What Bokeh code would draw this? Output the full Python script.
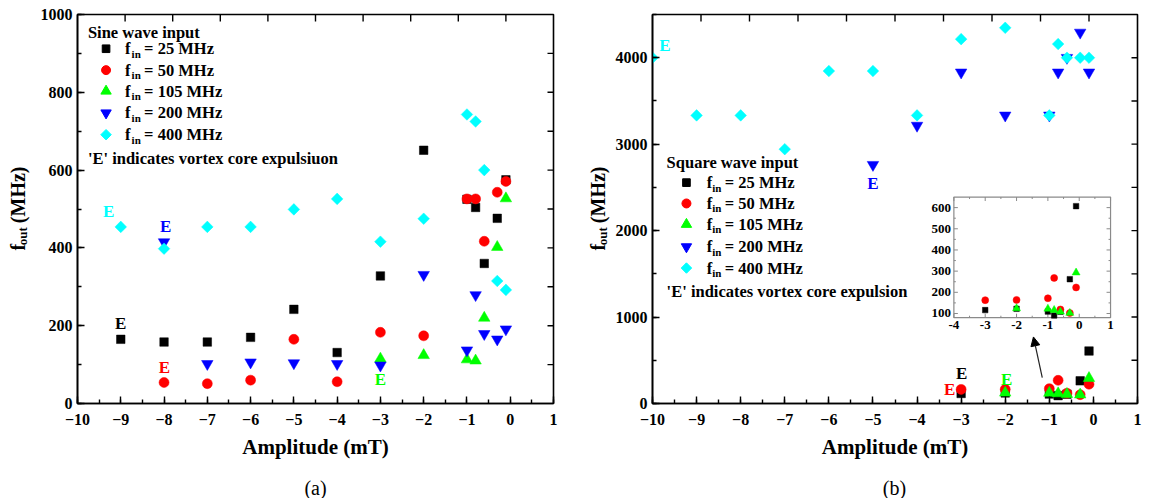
import math
from bokeh.plotting import figure
from bokeh.models import (Range1d, SingleIntervalTicker, Label, Arrow, NormalHead)
from bokeh.layouts import row, column
from bokeh.embed import file_html
from bokeh.resources import INLINE
from bokeh.core.properties import value

# ---------------- data ----------------
series_names = ["25 MHz", "50 MHz", "105 MHz", "200 MHz", "400 MHz"]
series_colors = ["#000000", "#ff0000", "#00ff00", "#0000ff", "#00ffff"]

# (a) sine wave input
sine_25_x = [-9, -8, -7, -6, -5, -4, -3, -2, -1, -0.8, -0.6, -0.3, -0.1]
sine_25_y = [165, 158, 158, 170, 242, 131, 328, 651, 525, 504, 360, 476, 575]
sine_50_x = [-8, -7, -6, -5, -4, -3, -2, -1, -0.8, -0.6, -0.3, -0.1]
sine_50_y = [54, 51, 60, 165, 56, 183, 174, 526, 526, 417, 543, 571]
sine_105_x = [-3, -2, -1, -0.8, -0.6, -0.3, -0.1]
sine_105_y = [115, 124, 113, 110, 220, 402, 527]
sine_200_x = [-8, -7, -6, -5, -4, -3, -2, -1, -0.8, -0.6, -0.3, -0.1]
sine_200_y = [415, 102, 106, 104, 102, 98, 331, 137, 279, 179, 165, 191]
sine_400_x = [-9, -8, -7, -6, -5, -4, -3, -2, -1, -0.8, -0.6, -0.3, -0.1]
sine_400_y = [454, 398, 454, 454, 499, 526, 416, 475, 743, 725, 600, 315, 292]
sine_E_x = [-9.28, -7.96, -9.0, -7.99, -3.0]
sine_E_y = [494, 454, 205, 92, 62]
sine_E_color = ["#00ffff", "#0000ff", "#000000", "#ff0000", "#00ff00"]

# (b) square wave input
sq_25_x = [-3, -2, -1, -0.8, -0.6, -0.3, -0.1]
sq_25_y = [116, 122, 109, 91, 108, 262, 607]
sq_50_x = [-3, -2, -1, -0.8, -0.6, -0.3, -0.1]
sq_50_y = [163, 164, 172, 268, 119, 102, 223]
sq_105_x = [-2, -1, -0.8, -0.6, -0.3, -0.1]
sq_105_y = [124, 122, 116, 108, 102, 293]
sq_200_x = [-5, -4, -3, -2, -1, -0.8, -0.6, -0.3, -0.1]
sq_200_y = [2762, 3215, 3831, 3333, 3333, 3831, 4000, 4292, 3831]
sq_400_x = [-10, -9, -8, -7, -6, -5, -4, -3, -2, -1, -0.8, -0.6, -0.3, -0.1]
sq_400_y = [4000, 3333, 3333, 2942, 3846, 3846, 3333, 4215, 4346, 3333, 4158, 4000, 4000, 4000]
sq_E_x = [-9.72, -5.0, -2.99, -3.26, -1.97]
sq_E_y = [4140, 2540, 345, 160, 275]
sq_E_color = ["#00ffff", "#0000ff", "#000000", "#ff0000", "#00ff00"]

captions = ["(a)", "(b)"]

# axis settings
x_range = (-10, 1)
sine_y_range = (0, 1000)
sq_y_range = (0, 4500)
inset_x_range = (-4, 1)
inset_y_range = (80, 650)
inset_x_ticks = [-4, -3, -2, -1, 0, 1]
inset_y_ticks = [100, 200, 300, 400, 500, 600]

FONT = "Liberation Serif"
H = 468                     # height of the plot row
CAP_H = 30                  # height of the caption strip
FRAME_BOTTOM = 403          # page y of the frame bottom
BOTTOM = H - FRAME_BOTTOM

# marker styles: (marker, angle, size, inset size)
MARKERS = [("square", 0.0, 8.5, 5.5), ("circle", 0.0, 10, 7), ("triangle", 0.0, 11.5, 8),
           ("inverted_triangle", 0.0, 11.5, 8), ("square", math.pi / 4, 8.2, 6)]


def style_axis(ax):
    ax.axis_line_width = 1.6
    ax.axis_line_color = "black"
    ax.major_tick_in = 7
    ax.major_tick_out = 0
    ax.minor_tick_in = 4
    ax.minor_tick_out = 0
    ax.major_tick_line_width = 1.4
    ax.minor_tick_line_width = 1.4
    ax.major_tick_line_color = "black"
    ax.minor_tick_line_color = "black"
    ax.major_label_text_font = FONT
    ax.major_label_text_font_style = "bold"
    ax.major_label_text_color = "black"
    ax.major_label_text_font_size = "16px"


def make_fig(width, yr, b_left, b_right, b_top, y_major, right_step):
    p = figure(width=width, height=H, x_range=Range1d(*x_range), y_range=Range1d(*yr),
               output_backend="svg", toolbar_location=None,
               min_border_left=b_left, min_border_right=b_right,
               min_border_top=b_top, min_border_bottom=BOTTOM)
    p.grid.visible = False
    p.outline_line_color = "black"
    p.outline_line_width = 1.6
    xa = p.xaxis[0]
    xa.ticker = SingleIntervalTicker(interval=1, num_minor_ticks=2)
    style_axis(xa)
    xa.major_label_standoff = 10
    xa.axis_label = "Amplitude (mT)"
    xa.axis_label_text_font = FONT
    xa.axis_label_text_font_style = "bold"
    xa.axis_label_text_font_size = "21px"
    xa.axis_label_text_color = "black"
    xa.axis_label_standoff = 7
    ya = p.yaxis[0]
    ya.ticker = SingleIntervalTicker(interval=y_major, num_minor_ticks=2)
    style_axis(ya)
    ya.major_label_standoff = 5
    # mirrored inner ticks on top (10 equal divisions) and right edges
    span = x_range[1] - x_range[0]
    top_ticks = [x_range[0] + span * k / 10 for k in range(1, 10)]
    p.ray(x=top_ticks, y=[yr[1]] * len(top_ticks), length=7, length_units="screen",
          angle=-90, angle_units="deg", line_color="black", line_width=1.4)
    r_ticks = list(range(yr[0] + right_step, yr[1], right_step))
    p.ray(x=[x_range[1]] * len(r_ticks), y=r_ticks, length=6, length_units="screen",
          angle=180, angle_units="deg", line_color="black", line_width=1.4)
    return p


def draw_series(p, data, **kw):
    for (xs, ys), color, (mk, ang, sz, isz) in zip(data, series_colors, MARKERS):
        size = isz if "x_range_name" in kw else sz
        p.scatter(xs, ys, marker=mk, angle=ang, size=size, fill_color=color,
                  line_color=color, line_width=0.5, **kw)


def lab(p, text, x, y, size="16.5px", **kw):
    p.add_layout(Label(x=x, y=y, text=text, text_font=FONT, text_font_style="bold",
                       text_font_size=size, text_color=kw.pop("color", "black"),
                       text_baseline=kw.pop("baseline", "middle"), **kw))


def add_legend(p, title, note, x_title, y_title, x_marker, x_text, rows_y, y_note, sub_dx, rest_dx):
    lab(p, title, x_title, y_title)
    for name, color, (mk, ang, sz, isz), yy in zip(series_names, series_colors, MARKERS, rows_y):
        p.scatter([x_marker], [yy], marker=mk, angle=ang, size=sz * 0.9, fill_color=color,
                  line_color=color)
        lab(p, "f", x_text, yy)
        lab(p, "in", x_text, yy, size="11px", x_offset=sub_dx, y_offset=-5)
        lab(p, "= " + name, x_text, yy, x_offset=rest_dx)
    lab(p, note, x_title, y_note)


def add_E(p, xs, ys, colors):
    p.text(x=xs, y=ys, text=["E"] * len(xs), text_color=colors, text_font=value(FONT),
           text_font_style="bold", text_font_size="17px", text_align="center",
           text_baseline="middle")


def blank_strip(width, height):
    t = figure(width=width, height=height, x_range=Range1d(0, width), y_range=Range1d(0, height),
               x_axis_type=None, y_axis_type=None, output_backend="svg", toolbar_location=None,
               min_border_left=0, min_border_right=0, min_border_top=0, min_border_bottom=0)
    t.grid.visible = False
    t.outline_line_color = None
    return t


def ytitle_strip(width, x_center):
    t = blank_strip(width, H)
    y0 = H - 284   # bottom end of the rotated title (empirically placed)
    kw = dict(text_font=value(FONT), text_font_style="bold", text_color="black",
              angle=90, angle_units="deg", text_align="left", text_baseline="middle")
    t.text(x=[x_center], y=[y0], text=["f"], text_font_size="20px", **kw)
    t.text(x=[x_center + 5], y=[y0 + 6.5], text=["out"], text_font_size="13px", **kw)
    t.text(x=[x_center], y=[y0 + 33], text=["(MHz)"], text_font_size="20px", **kw)
    return t


# ---------------- panel (a) ----------------
W_T1, W_P1, W_T2, W_P2 = 34, 554, 24, 538
t1 = ytitle_strip(W_T1, 17)
p1 = make_fig(W_P1, sine_y_range, 43, 35, 14, 200, 100)
draw_series(p1, [(sine_25_x, sine_25_y), (sine_50_x, sine_50_y), (sine_105_x, sine_105_y),
                 (sine_200_x, sine_200_y), (sine_400_x, sine_400_y)])
add_E(p1, sine_E_x, sine_E_y, sine_E_color)
add_legend(p1, "Sine wave input", "'E' indicates vortex core expulsiuon",
           -9.76, 954, -9.34, -8.9, [912, 857, 803, 747, 691], 630, 6.5, 19)

# ---------------- panel (b) ----------------
t2 = ytitle_strip(W_T2, 9)
p2 = make_fig(W_P2, sq_y_range, 39, 13, 13, 1000, 500)
draw_series(p2, [(sq_25_x, sq_25_y), (sq_50_x, sq_50_y), (sq_105_x, sq_105_y),
                 (sq_200_x, sq_200_y), (sq_400_x, sq_400_y)])
add_E(p2, sq_E_x, sq_E_y, sq_E_color)
add_legend(p2, "Square wave input", "'E' indicates vortex core expulsion",
           -9.68, 2785, -9.23, -8.77, [2555, 2314, 2072, 1813, 1567], 1300, 5.5, 18)

# inset (drawn through extra ranges mapped onto a sub-box of the frame)
FRAME_W, FRAME_H = W_P2 - 39 - 13, FRAME_BOTTOM - 13
IN_L, IN_B, IN_W, IN_H = 302, 86, 157, 121
sx = IN_W / (inset_x_range[1] - inset_x_range[0])
sy = IN_H / (inset_y_range[1] - inset_y_range[0])
p2.extra_x_ranges = {"ix": Range1d(inset_x_range[0] - IN_L / sx,
                                   inset_x_range[1] + (FRAME_W - IN_L - IN_W) / sx)}
p2.extra_y_ranges = {"iy": Range1d(inset_y_range[0] - IN_B / sy,
                                   inset_y_range[1] + (FRAME_H - IN_B - IN_H) / sy)}
R = dict(x_range_name="ix", y_range_name="iy")
GRAY = "#8a8a8a"
p2.quad(left=[inset_x_range[0]], right=[inset_x_range[1]], bottom=[inset_y_range[0]],
        top=[inset_y_range[1]], fill_color="white", line_color=GRAY, line_width=1.2, **R)
xmin = [t + 0.5 for t in inset_x_ticks[:-1]]
ymin = [t + 50 for t in inset_y_ticks[:-1]]
for ticks, ln in ((inset_x_ticks, 4), (xmin, 2)):
    n = len(ticks)
    p2.ray(x=ticks, y=[inset_y_range[0]] * n, length=ln, length_units="screen", angle=90,
           angle_units="deg", line_color=GRAY, line_width=1, **R)
    p2.ray(x=ticks, y=[inset_y_range[1]] * n, length=ln, length_units="screen", angle=-90,
           angle_units="deg", line_color=GRAY, line_width=1, **R)
for ticks, ln in ((inset_y_ticks, 4), (ymin, 2)):
    n = len(ticks)
    p2.ray(x=[inset_x_range[0]] * n, y=ticks, length=ln, length_units="screen", angle=0,
           angle_units="deg", line_color=GRAY, line_width=1, **R)
    p2.ray(x=[inset_x_range[1]] * n, y=ticks, length=ln, length_units="screen", angle=180,
           angle_units="deg", line_color=GRAY, line_width=1, **R)
p2.text(x=inset_x_ticks, y=[inset_y_range[0]] * len(inset_x_ticks),
        text=[str(t) for t in inset_x_ticks], y_offset=3, text_align="center",
        text_baseline="top", text_font=value(FONT), text_font_style="bold",
        text_font_size="13px", text_color="black", **R)
p2.text(x=[inset_x_range[0]] * len(inset_y_ticks), y=inset_y_ticks,
        text=[str(t) for t in inset_y_ticks], x_offset=-3, text_align="right",
        text_baseline="middle", text_font=value(FONT), text_font_style="bold",
        text_font_size="13px", text_color="black", **R)
draw_series(p2, [(sq_25_x, sq_25_y), (sq_50_x, sq_50_y), (sq_105_x, sq_105_y)], **R)

p2.add_layout(Arrow(end=NormalHead(size=9, fill_color="black", line_color="black"),
                    x_start=-1.16, y_start=300, x_end=-1.36, y_end=770,
                    line_width=1.2, line_color="#222222"))

# ---------------- captions under the two frames ----------------
TOTAL_W = W_T1 + W_P1 + W_T2 + W_P2
cap = blank_strip(TOTAL_W, CAP_H)
frame1_center = W_T1 + 43 + (W_P1 - 43 - 35) / 2
frame2_center = W_T1 + W_P1 + W_T2 + 39 + (W_P2 - 39 - 13) / 2
cap.text(x=[frame1_center, frame2_center], y=[CAP_H - 19, CAP_H - 19], text=captions,
         text_align="center", text_baseline="middle", text_font=value(FONT),
         text_font_size="20px", text_color="black")

layout = column(row(t1, p1, t2, p2), cap)
open("out.html", "w").write(file_html(layout, INLINE))
